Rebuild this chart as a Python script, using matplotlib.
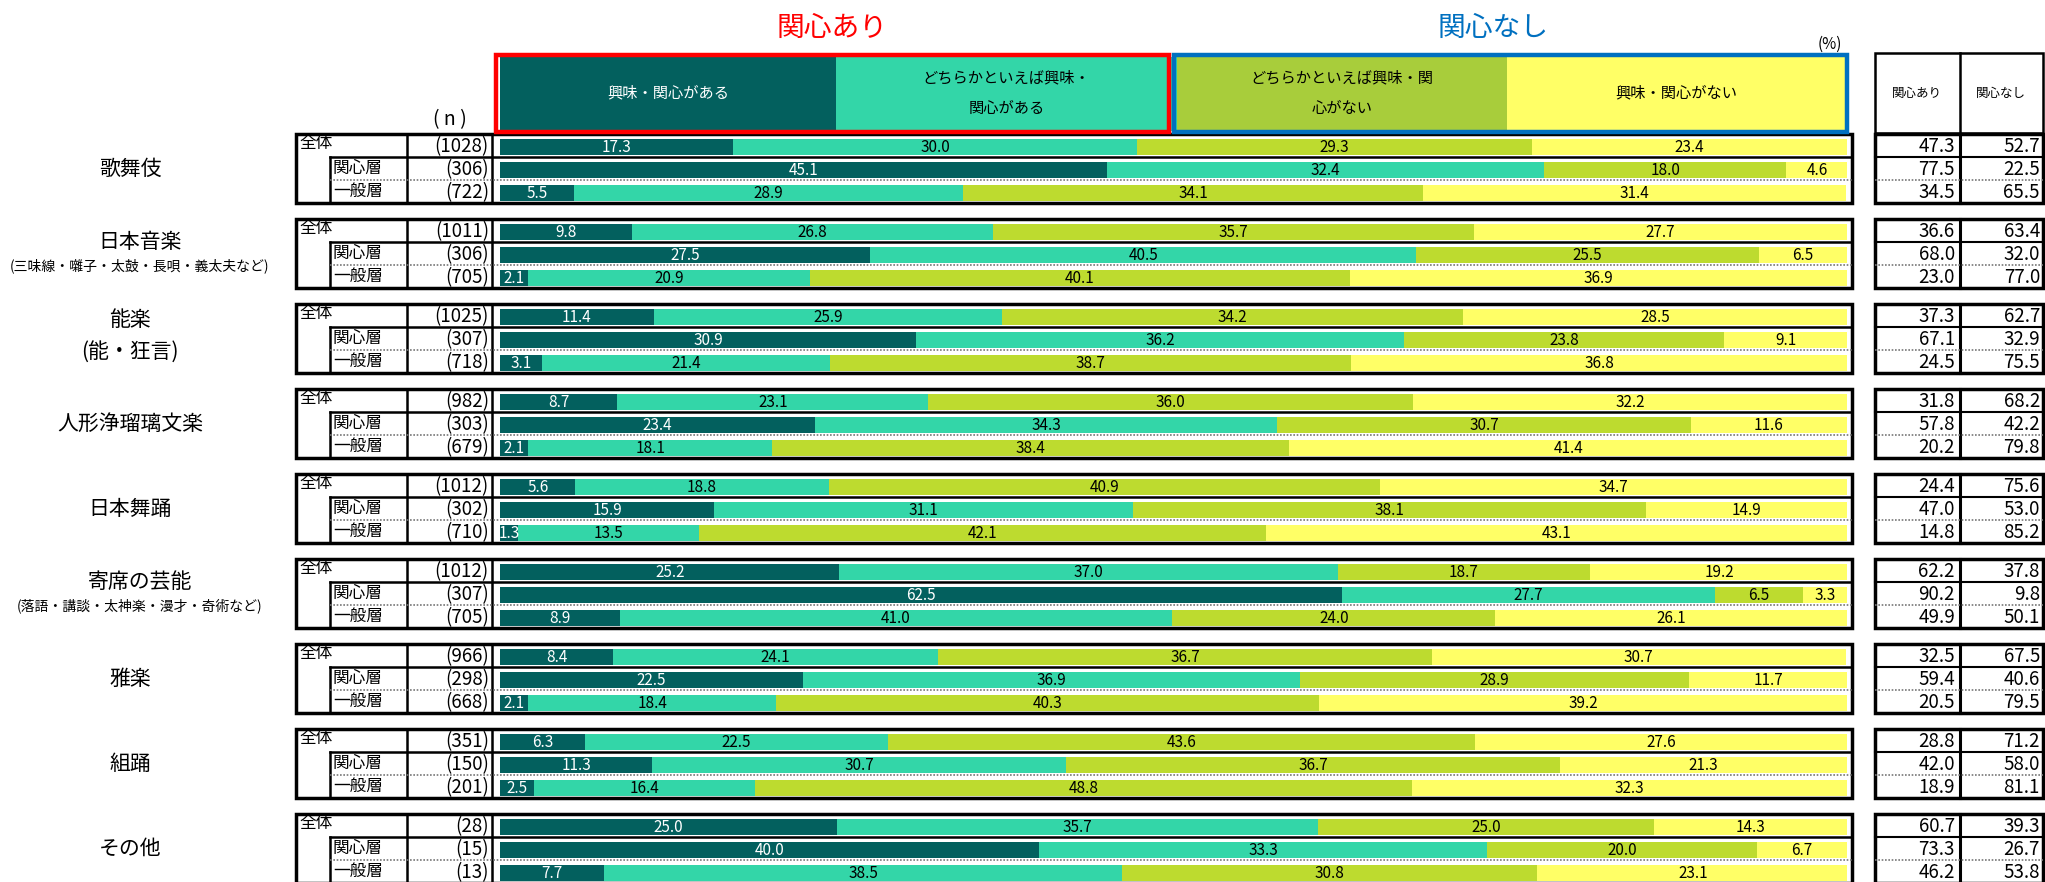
import matplotlib.pyplot as plt
from matplotlib.patches import Rectangle

plt.rcParams['font.family'] = ['Noto Sans CJK JP', 'DejaVu Sans']

categories = ['歌舞伎', '日本音楽', '能楽', '人形浄瑠璃文楽', '日本舞踊',
              '寄席の芸能', '雅楽', '組踊', 'その他']
subtitles = ['', '(三味線・囃子・太鼓・長唄・義太夫など)', '(能・狂言)', '', '',
             '(落語・講談・太神楽・漫才・奇術など)', '', '', '']
row_labels = ['全体', '関心層', '一般層']
legend_labels = ['興味・関心がある', 'どちらかといえば興味・\n関心がある',
                 'どちらかといえば興味・関\n心がない', '興味・関心がない']

n_values = [[1028, 306, 722], [1011, 306, 705], [1025, 307, 718],
            [982, 303, 679], [1012, 302, 710], [1012, 307, 705],
            [966, 298, 668], [351, 150, 201], [28, 15, 13]]

# 興味・関心がある
seg1 = [[17.3, 45.1, 5.5], [9.8, 27.5, 2.1], [11.4, 30.9, 3.1],
        [8.7, 23.4, 2.1], [5.6, 15.9, 1.3], [25.2, 62.5, 8.9],
        [8.4, 22.5, 2.1], [6.3, 11.3, 2.5], [25.0, 40.0, 7.7]]
# どちらかといえば興味・関心がある
seg2 = [[30.0, 32.4, 28.9], [26.8, 40.5, 20.9], [25.9, 36.2, 21.4],
        [23.1, 34.3, 18.1], [18.8, 31.1, 13.5], [37.0, 27.7, 41.0],
        [24.1, 36.9, 18.4], [22.5, 30.7, 16.4], [35.7, 33.3, 38.5]]
# どちらかといえば興味・関心がない
seg3 = [[29.3, 18.0, 34.1], [35.7, 25.5, 40.1], [34.2, 23.8, 38.7],
        [36.0, 30.7, 38.4], [40.9, 38.1, 42.1], [18.7, 6.5, 24.0],
        [36.7, 28.9, 40.3], [43.6, 36.7, 48.8], [25.0, 20.0, 30.8]]
# 興味・関心がない
seg4 = [[23.4, 4.6, 31.4], [27.7, 6.5, 36.9], [28.5, 9.1, 36.8],
        [32.2, 11.6, 41.4], [34.7, 14.9, 43.1], [19.2, 3.3, 26.1],
        [30.7, 11.7, 39.2], [27.6, 21.3, 32.3], [14.3, 6.7, 23.1]]

kanshin_ari = [[47.3, 77.5, 34.5], [36.6, 68.0, 23.0], [37.3, 67.1, 24.5],
               [31.8, 57.8, 20.2], [24.4, 47.0, 14.8], [62.2, 90.2, 49.9],
               [32.5, 59.4, 20.5], [28.8, 42.0, 18.9], [60.7, 73.3, 46.2]]
kanshin_nashi = [[52.7, 22.5, 65.5], [63.4, 32.0, 77.0], [62.7, 32.9, 75.5],
                 [68.2, 42.2, 79.8], [75.6, 53.0, 85.2], [37.8, 9.8, 50.1],
                 [67.5, 40.6, 79.5], [71.2, 58.0, 81.1], [39.3, 26.7, 53.8]]

colors = ['#03605e', '#33d6a8', '#bddb2f', '#ffff66']
header_colors = ['#03605e', '#33d6a8', '#a8cd3b', '#ffff66']
text_colors = ['white', 'black', 'black', 'black']

W, H = 2045, 882
fig = plt.figure(figsize=(W / 100, H / 100), dpi=100)

# layout in pixels
top0 = 134
period = 85.0
row_h = 23.0
bar_l, bar_r = 500, 1847

bx = fig.add_axes([bar_l / W, 0, (bar_r - bar_l) / W, 1])
bx.set_xlim(0, 100)
bx.set_ylim(H, 0)
bx.axis('off')

ax = fig.add_axes([0, 0, 1, 1])
ax.set_xlim(0, W)
ax.set_ylim(H, 0)
ax.axis('off')
ax.patch.set_alpha(0)

segs = [seg1, seg2, seg3, seg4]
for g in range(len(categories)):
    gtop = top0 + g * period
    ys = [gtop + r * row_h + row_h / 2 + 1 for r in range(3)]
    lefts = [0, 0, 0]
    for k, seg in enumerate(segs):
        vals = seg[g]
        bx.barh(ys, vals, left=lefts, height=16, color=colors[k],
                edgecolor='none')
        for r in range(3):
            bx.text(lefts[r] + vals[r] / 2, ys[r] + 1, f'{vals[r]:.1f}',
                    ha='center', va='center', fontsize=11,
                    color=text_colors[k])
        lefts = [lefts[r] + vals[r] for r in range(3)]

    gbot = gtop + 3 * row_h
    # left table frame
    ax.add_patch(Rectangle((296, gtop), 1852 - 296, gbot - gtop, fill=False,
                           lw=2.5, ec='black'))
    ax.plot([407, 407], [gtop, gbot], color='black', lw=1.8)
    ax.plot([492, 492], [gtop, gbot], color='black', lw=1.8)
    ax.plot([330, 330], [gtop + row_h, gbot], color='black', lw=1.8)
    ax.plot([330, 1852], [gtop + row_h, gtop + row_h], color='black', lw=1.8)
    ax.plot([330, 1852], [gtop + 2 * row_h, gtop + 2 * row_h], color='#777777',
            lw=1.2, ls=(0, (1, 1)))
    # right table frame
    ax.add_patch(Rectangle((1875, gtop), 2043 - 1875, gbot - gtop, fill=False,
                           lw=2.5, ec='black'))
    ax.plot([1960, 1960], [gtop, gbot], color='black', lw=2.2)
    ax.plot([1875, 2043], [gtop + row_h, gtop + row_h], color='black', lw=1.5)
    ax.plot([1875, 2043], [gtop + 2 * row_h, gtop + 2 * row_h], color='#777777',
            lw=1.2, ls=(0, (1, 1)))

    for r in range(3):
        yc = gtop + r * row_h + row_h / 2
        ax.text(299 if r == 0 else 333, yc - (2 if r == 0 else 0), row_labels[r],
                ha='left', va='center', fontsize=12)
        ax.text(489, yc + 1, f'({n_values[g][r]})', ha='right', va='center',
                fontsize=13.5)
        ax.text(1955, yc + 1, f'{kanshin_ari[g][r]:.1f}', ha='right',
                va='center', fontsize=13.5)
        ax.text(2040, yc + 1, f'{kanshin_nashi[g][r]:.1f}', ha='right',
                va='center', fontsize=13.5)

    gc = gtop + 35
    if subtitles[g]:
        if len(subtitles[g]) > 8:
            ax.text(140, gc - 12, categories[g], ha='center', va='center',
                    fontsize=15)
            ax.text(140, gc + 12, subtitles[g], ha='center', va='center',
                    fontsize=10)
        else:
            ax.text(130, gc - 19, categories[g], ha='center', va='center',
                    fontsize=15)
            ax.text(130, gc + 13, subtitles[g], ha='center', va='center',
                    fontsize=15)
    else:
        ax.text(130, gc, categories[g], ha='center', va='center', fontsize=15)

# header legend boxes
hx = [500, 836, 1177, 1507, 1845]
for k in range(4):
    ax.add_patch(Rectangle((hx[k], 57), hx[k + 1] - hx[k], 74,
                           color=header_colors[k], lw=0))
    ax.text((hx[k] + hx[k + 1]) / 2, 93, legend_labels[k], ha='center',
            va='center', fontsize=11, color=text_colors[k], linespacing=2.0)
ax.add_patch(Rectangle((496, 55), 1169 - 496, 77, fill=False, ec='#ff0000',
                       lw=3.2))
ax.add_patch(Rectangle((1174, 55), 1847 - 1174, 77, fill=False, ec='#0070c0',
                       lw=3.2))
ax.text(832, 28, '関心あり', ha='center', va='center', fontsize=20,
        color='#ff0000')
ax.text(1493, 28, '関心なし', ha='center', va='center', fontsize=20,
        color='#0070c0')
ax.text(1830, 44, '(%)', ha='center', va='center', fontsize=11)
ax.text(450, 120, '( n )', ha='center', va='center', fontsize=14)

# right table header
ax.add_patch(Rectangle((1875, 53), 2043 - 1875, 80, fill=False, ec='black',
                       lw=1.8))
ax.plot([1960, 1960], [53, 133], color='black', lw=1.8)
ax.text(1917, 93, '関心あり', ha='center', va='center', fontsize=9)
ax.text(2001, 93, '関心なし', ha='center', va='center', fontsize=9)

fig.savefig('out.png', dpi=100)
